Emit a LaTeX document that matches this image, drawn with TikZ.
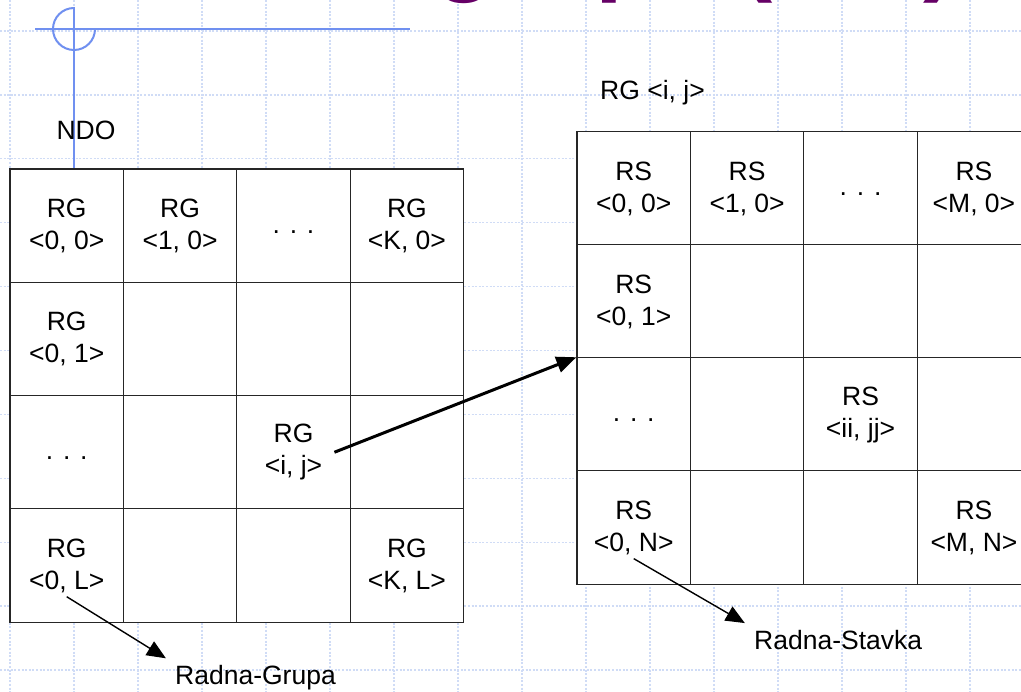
\documentclass[tikz,border=0pt]{standalone}
\usepackage{fontspec}
\setmainfont{Liberation Sans}
\usepackage{tikz}
\usetikzlibrary{arrows.meta}

\definecolor{gridblue}{RGB}{208,220,246}
\definecolor{deco}{RGB}{112,144,240}
\definecolor{titlepurple}{RGB}{102,0,102}

\begin{document}
\begin{tikzpicture}[
  x=1pt, y=-1pt,
  font=\fontsize{26.5}{32}\selectfont,
  inner sep=4pt,
  cell/.style    ={rectangle, draw=black!85, line width=1.2pt, fill=white, minimum width=113.5pt, minimum height=113.3pt, inner sep=0pt},
  lbl/.style     ={align=center},
  dots/.style    ={yshift=-6pt},
  gridline/.style={gridblue, line width=1.3pt, dash pattern=on 2pt off 1.6pt},
  link/.style    ={-{Triangle[length=20pt,width=16pt]}, line width=3pt},
  ptr/.style     ={-{Triangle[length=19pt,width=16pt]}, line width=1.4pt, shorten >=6pt}
  ]

  \useasboundingbox (0,0) rectangle (1021,692);
  \clip (0,0) rectangle (1021,692);
  \fill[white] (0,0) rectangle (1021,692);

  % background grid of the slide
  \foreach \k in {0,...,15} \draw[gridline] ({10+64*\k},0) -- ({10+64*\k},692);
  \foreach \k in {0,...,10} \draw[gridline] (0,{31+63.9*\k}) -- (1021,{31+63.9*\k});

  % title, cut by the top edge
  \node[titlepurple, anchor=base west, inner sep=0pt, font=\fontsize{100}{110}\selectfont\bfseries] (title) at (434,-17) {grupa (RG)};

  % ornament
  \draw[deco, line width=2pt] (35,29) -- (410,29);
  \draw[deco, line width=2pt] (74,8) arc[start angle=270, end angle=0, radius=21];
  \draw[deco, line width=2pt] (74,7) -- (74,169);

  % left table: RG cells
  \foreach \c in {0,...,3}
    \foreach \r in {0,...,3}
      \node[cell] (rg-\c-\r) at ({66.7+113.4*\c},{225.65+113.3*\r}) {};
  \foreach \c/\r/\t in {0/0/{<0, 0>}, 1/0/{<1, 0>}, 3/0/{<K, 0>}, 0/1/{<0, 1>},
                        2/2/{<i, j>}, 0/3/{<0, L>}, 3/3/{<K, L>}}
    \node[lbl] (rgt-\c-\r) at (rg-\c-\r) {RG\\\t};
  \foreach \c/\r in {2/0, 0/2}
    \node[lbl, dots] (rgd-\c-\r) at (rg-\c-\r) {. . .};

  % right table: RS cells
  \foreach \c in {0,...,3}
    \foreach \r in {0,...,3}
      \node[cell] (rs-\c-\r) at ({633.75+113.4*\c},{188.5+113*\r}) {};
  \foreach \c/\r/\t in {0/0/{<0, 0>}, 1/0/{<1, 0>}, 3/0/{<M, 0>}, 0/1/{<0, 1>},
                        2/2/{<ii, jj>}, 0/3/{<0, N>}, 3/3/{<M, N>}}
    \node[lbl] (rst-\c-\r) at (rs-\c-\r) {RS\\\t};
  \foreach \c/\r in {2/0, 0/2}
    \node[lbl, dots] (rsd-\c-\r) at (rs-\c-\r) {. . .};

  \node (ndo) at (86,130) {NDO};
  \node[anchor=west] (rgij) at (596,93) {RG <i, j>};
  \node[anchor=west] (grupa) at (171,678) {Radna-Grupa};
  \node[anchor=west] (stavka) at (750,640) {Radna-Stavka};

  \draw[link] ([xshift=8pt]rgt-2-2.east) -- (rs-0-2.north west);
  \draw[ptr] (rgt-0-3.south) -- (grupa.north west);
  \draw[ptr] (rst-0-3.south) -- (stavka.north west);

\end{tikzpicture}
\end{document}
